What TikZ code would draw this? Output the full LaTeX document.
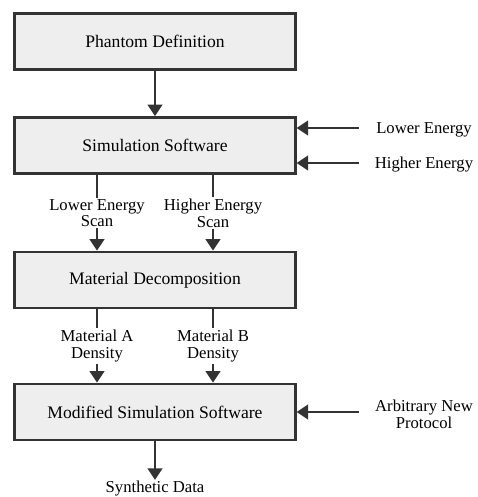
\documentclass[tikz,border=0pt]{standalone}
\usepackage{fontspec}
\setmainfont{Liberation Serif}
\usetikzlibrary{arrows.meta}
\definecolor{boxgray}{HTML}{EEEEEE}
\definecolor{edgegray}{HTML}{333333}
\tikzset{box/.style = {draw=edgegray, fill=boxgray, line width=2.2pt, minimum width=210.3pt, minimum height=42pt, font=\fontsize{13.2}{15}\selectfont}}
\tikzset{lbl/.style = {align=center, inner sep=1pt, font=\fontsize{12.5}{12.5}\selectfont}}
\tikzset{flow/.style = {draw=edgegray, line width=1.2pt, -{Triangle[length=8.5pt,width=11pt]}}}
\tikzset{wire/.style = {draw=edgegray, line width=1.2pt}}

\begin{document}
\begin{tikzpicture}[x=0.75pt,y=-0.75pt]
        \useasboundingbox (0,0) rectangle (478,497);
        % the four stages
        \node[box] (phantom) at (155,41.5) {Phantom Definition};
        \node[box] (sim) at (155,145.5) {Simulation Software};
        \node[box] (decomp) at (155,280) {Material Decomposition};
        \node[box] (modsim) at (155,412) {Modified Simulation Software};
        % side inputs and labels
        \node[lbl] (lowE) at (424,129.5) {Lower Energy};
        \node[lbl] (highE) at (424,164.5) {Higher Energy};
        \node[lbl] (protocol) at (424,414) {Arbitrary New\\Protocol};
        \node[lbl] (lowscan) at (97,213) {Lower Energy\\Scan};
        \node[lbl] (highscan) at (213,213) {Higher Energy\\Scan};
        \node[lbl] (densA) at (97,346) {Material A\\Density};
        \node[lbl] (densB) at (213,346) {Material B\\Density};
        \node[lbl] (synth) at (155,489) {Synthetic Data};
        % connectors
        \draw[flow] (phantom) -- (sim);
        \draw[flow] ([xshift=-12pt]lowE.west |- 0,128) -- (sim.east |- 0,128);
        \draw[flow] ([xshift=-11pt]highE.west |- 0,163) -- (sim.east |- 0,163);
        \draw[wire] (sim.south -| lowscan) -- (lowscan.north);
        \draw[wire] (sim.south -| highscan) -- (highscan.north);
        \draw[flow] (lowscan.south) -- (lowscan.south |- decomp.north);
        \draw[flow] (highscan.south) -- (highscan.south |- decomp.north);
        \draw[wire] (decomp.south -| densA) -- (densA.north);
        \draw[wire] (decomp.south -| densB) -- (densB.north);
        \draw[flow] (densA.south) -- (densA.south |- modsim.north);
        \draw[flow] (densB.south) -- (densB.south |- modsim.north);
        \draw[flow] ([xshift=-11pt]protocol.west |- modsim.east) -- (modsim.east);
        \draw[flow] (modsim) -- (synth);
\end{tikzpicture}
\end{document}
